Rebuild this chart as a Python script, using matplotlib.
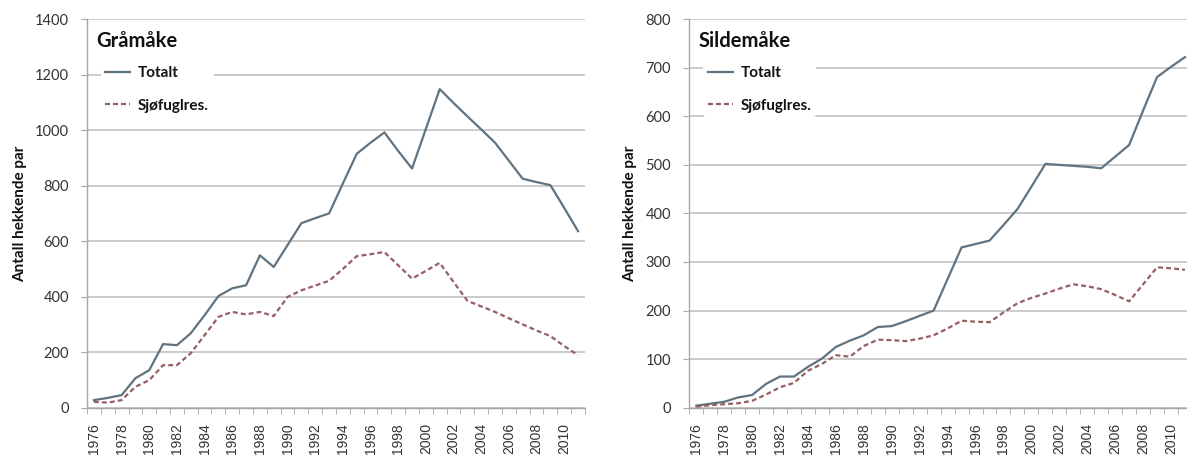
import matplotlib
matplotlib.use("Agg")
import matplotlib.pyplot as plt
import numpy as np

# <====== data ======>
years = list(range(1976, 2012))

graa_totalt = [27, 35, 45, 106, 135, 229, 225, 268, 333, 402,
               430, 441, 549, 507, 586, 665, 683, 700, 808, 915,
               955, 992, 925, 862, 1005, 1148, 1098, 1050, 1003, 955,
               890, 825, 813, 802, 720, 636]
graa_sjofugl = [21, 18, 27, 75, 99, 153, 153, 196, 261, 327,
                345, 336, 345, 330, 399, 423, 440, 457, 500, 546,
                553, 561, 513, 465, 493, 522, 453, 385, 365, 345,
                322, 300, 278, 258, 222, 189]

silde_totalt = [4, 8, 12, 21, 26, 49, 64, 64, 84, 101,
                125, 138, 149, 166, 168, 178, 189, 200, 265, 330,
                337, 344, 376, 409, 455, 502, 500, 498, 496, 493,
                517, 541, 612, 681, 702, 722]
silde_sjofugl = [2, 5, 7, 9, 14, 27, 42, 51, 76, 90,
                 108, 105, 127, 140, 139, 137, 142, 149, 163, 179,
                 177, 176, 196, 215, 226, 235, 245, 254, 250, 244,
                 232, 219, 254, 289, 287, 284]

panels = [
    ("Gråmåke", graa_totalt, graa_sjofugl, 1400, 200),
    ("Sildemåke", silde_totalt, silde_sjofugl, 800, 100),
]
series_names = ["Totalt", "Sjøfuglres."]

plt.rcParams['font.family'] = ['Lato', 'DejaVu Sans']

col_tot = "#5f7380"
col_sjo = "#956064"
grid_col = "#bdbdbd"
text_col = "#333333"

fig = plt.figure(figsize=(11.87, 4.58), dpi=100)
# axes boxes in figure fractions (left, bottom, width, height)
boxes = [(0.0733, 0.110, 0.4195, 0.848), (0.5807, 0.110, 0.4235, 0.848)]

x = np.arange(len(years))

for (name, tot, sjo, ymax, ystep), box in zip(panels, boxes):
    ax = fig.add_axes(box)
    h1, = ax.plot(x, tot, color=col_tot, lw=1.6, label=series_names[0], zorder=3)
    h2, = ax.plot(x, sjo, color=col_sjo, lw=1.6, ls=(0, (2.2, 1.4)),
                  label=series_names[1], zorder=3)

    ax.set_xlim(-0.5, len(years) - 0.5)
    ax.set_ylim(0, ymax)
    ax.set_yticks(np.arange(0, ymax + 1, ystep))
    ax.yaxis.grid(True, color=grid_col, lw=1.1)
    ax.set_axisbelow(True)

    ax.set_xticks(x[::2])
    ax.set_xticklabels([str(y) for y in years[::2]], rotation=90,
                       fontsize=10, family='Liberation Sans', color=text_col)
    ax.set_xticks(np.arange(-0.5, len(years), 1), minor=True)
    ax.tick_params(axis='x', which='major', length=0, pad=11)
    ax.tick_params(axis='x', which='minor', length=4, color="#a6a6a6")
    ax.tick_params(axis='y', length=4, color="#a6a6a6", labelsize=10.5,
                   labelcolor=text_col, pad=9)

    for s in ['top', 'right']:
        ax.spines[s].set_visible(False)
    for s in ['left', 'bottom']:
        ax.spines[s].set_color("#a6a6a6")
        ax.spines[s].set_linewidth(1.0)

    ax.set_ylabel("Antall hekkende par", fontsize=11, fontweight='bold',
                  color="#111111", labelpad=6)

    ax.text(0.018, 0.945, name, transform=ax.transAxes, fontsize=14.5,
            fontweight='bold', va='center', ha='left', color="#111111")
    leg = ax.legend(handles=[h1, h2], loc='upper left',
                    bbox_to_anchor=(0.012, 0.91), frameon=True,
                    facecolor='white', edgecolor='none', framealpha=1,
                    prop={'weight': 'bold', 'size': 11}, labelspacing=1.2,
                    handlelength=1.65, handletextpad=0.5, borderpad=0.3)
    for t in leg.get_texts():
        t.set_color("#111111")

fig.savefig("out.png", dpi=100)
